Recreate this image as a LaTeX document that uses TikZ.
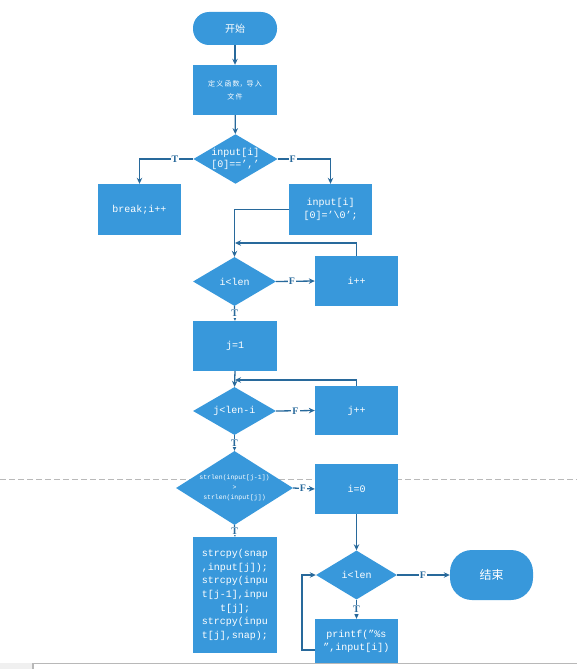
\documentclass[tikz,border=0pt]{standalone}
\usepackage{fontspec}
\setmonofont{Liberation Mono}
\newfontfamily\cjk{Noto Sans CJK SC}
\newfontfamily\lblfont{Liberation Serif}
\usetikzlibrary{shapes.geometric,arrows.meta}
\definecolor{boxblue}{RGB}{56,152,219}
\definecolor{lineblue}{RGB}{40,105,155}
\definecolor{dashgray}{RGB}{185,185,185}
\begin{document}
\begin{tikzpicture}[x=1pt,y=-1pt,
 proc/.style={rectangle, fill=boxblue, text=white, minimum width=84pt, minimum height=50pt, inner sep=1pt, font=\ttfamily\fontsize{10}{13}\selectfont, align=center},
 dec/.style={diamond, fill=boxblue, text=white, minimum width=83pt, minimum height=49pt, inner sep=0pt, aspect=1.7, font=\ttfamily\fontsize{10}{12}\selectfont, align=center},
 term/.style={rectangle, rounded corners=16pt, fill=boxblue, text=white, minimum width=84pt, minimum height=33pt, font=\cjk\fontsize{10}{12}\selectfont},
 arr/.style={draw=lineblue, line width=1.3pt, -{Stealth[length=6pt,width=5.5pt]}},
 lbl/.style={fill=white, text=lineblue, inner sep=1pt, font=\lblfont\bfseries\fontsize{10}{11}\selectfont}
]
\useasboundingbox (0,0) rectangle (577,669);
\draw[dashgray, line width=0.9pt, dash pattern=on 6pt off 3pt] (0,479) -- (577,479);

\node[term] (start) at (235,28.5) {开始};
\node[proc, font=\cjk\fontsize{7}{13}\selectfont] (def) at (235,90) {定\,义\,函\,数，导\,入\\文\,件};
\node[dec] (d1) at (235.5,159) {input[i]\\\relax[0]==’,’};
\node[proc, minimum width=83pt, minimum height=51pt] (brk) at (139.5,209.5) {break;i++};
\node[proc, minimum width=83pt, minimum height=51pt] (inp) at (330.5,209.5) {input[i]\\\relax[0]=’\textbackslash0’;};
\node[dec] (d2) at (234.5,281.5) {i<len};
\node[proc, minimum width=83pt] (ipp) at (356.5,281) {i++};
\node[proc] (j1) at (235,346) {j=1};
\node[dec, minimum height=48pt] (d3) at (234.5,411) {j<len-i};
\node[proc, minimum width=83pt, minimum height=49pt] (jpp) at (356.5,410.5) {j++};
\node[dec, minimum width=117pt, minimum height=74pt, aspect=1.58, font=\ttfamily\fontsize{6.5}{10}\selectfont] (d4) at (234.5,488) {strlen(input[j-1])\\>\\strlen(input[j])};
\node[proc, minimum width=83pt] (i0) at (356.5,489) {i=0};
\node[proc, minimum height=116pt, font=\ttfamily\fontsize{10}{13.6}\selectfont] (cpy) at (235,595) {strcpy(snap\\,input[j]);\\strcpy(inpu\\t[j-1],inpu\\t[j];\\strcpy(inpu\\t[j],snap);};
\node[dec, minimum width=81pt, aspect=1.65] (d5) at (356.5,575) {i<len};
\node[term, minimum width=83pt, minimum height=50pt, rounded corners=22pt, font=\cjk\fontsize{12}{14}\selectfont] (end) at (491.5,575) {结束};
\node[proc, minimum width=83pt, minimum height=44pt] (pr) at (356.5,641) {printf(”\%s\\”,input[i])};

\coordinate (m1) at (235,243);
\coordinate (m2) at (235,380);
\coordinate (m3) at (302,650);

\draw[arr] (start) -- (def);
\draw[arr] (def) -- (d1);
\draw[arr] (d1.west) -| node[lbl,pos=0.17]{T} (brk.north);
\draw[arr] (d1.east) -| node[lbl,pos=0.14]{F} (inp.north);
\draw[arr] (inp.west) -| (d2.north);
\draw[arr] (ipp.north) |- (m1);
\draw[arr] (d2.east) -- node[lbl,pos=0.41]{F} (ipp.west);
\draw[arr] (d2.south) -- node[lbl]{T} (j1.north);
\draw[arr] (j1.south) -- (d3.north);
\draw[arr] (jpp.north) |- (m2);
\draw[arr] (d3.east) -- node[lbl]{F} (jpp.west);
\draw[arr] (d3.south) -- node[lbl]{T} (d4.north);
\draw[arr] (d4.east) -- node[lbl,pos=0.45]{F} (i0.west);
\draw[arr] (d4.south) -- node[lbl]{T} (cpy.north);
\draw[arr] (i0.south) -- (d5.north);
\draw[arr] (d5.east) -- node[lbl,pos=0.49]{F} (end.west);
\draw[arr] (d5.south) -- node[lbl]{T} (pr.north);
\draw[arr] (pr.west |- m3) -- (m3) |- (d5.west);

\fill[white] (0,663) rectangle (577,669);
\fill[black!6] (0,663) rectangle (33,669);
\draw[black!28, line width=1.2pt] (33,669) -- (33,663.5) -- (577,663.5);
\end{tikzpicture}
\end{document}
